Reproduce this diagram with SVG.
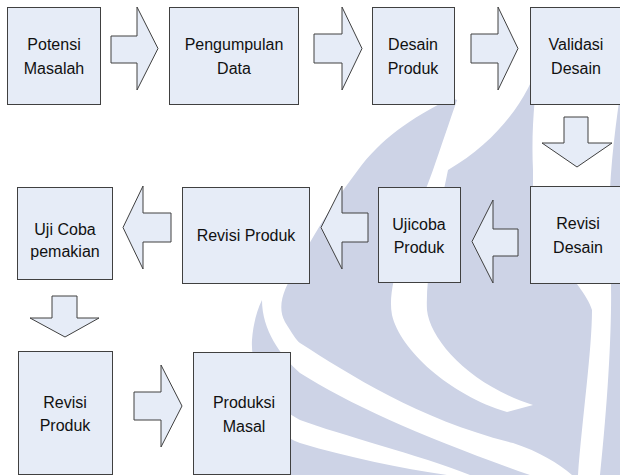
<svg xmlns="http://www.w3.org/2000/svg" width="620" height="475" viewBox="0 0 620 475">
<style>
.wm{fill:#CDD3E6;stroke:none}
.box{fill:#E6ECF7;stroke:#404040;stroke-width:1}
.arr{fill:#E6ECF7;stroke:#404040;stroke-width:1;stroke-linejoin:miter}
text{font-family:"Liberation Sans",Arial,sans-serif;font-size:16px;fill:#111;text-anchor:middle}
</style>
<rect x="0" y="0" width="620" height="475" fill="#fff"/>
<g id="watermark">
<path class="wm" d="M452,98 C410,118 380,140 358,170 C335,200 310,240 295,270 C285,288 276,305 285,322 C292,333 296,340 300,343 C350,375 420,420 513,443 C540,452 558,463 572,475 L578,475 C582,420 592,350 592,310 C585,285 540,250 533,200 L533,170 C531,130 535,90 540,58 C530,95 500,140 448,170 L433,170 C440,150 450,120 457,100 Z"/>
<path fill="#fff" d="M433,170 C415,220 385,280 392,315 C400,350 450,395 507,412 L533,405 C470,385 430,340 427,310 C425,270 440,210 448,170 Z"/>
<path class="wm" d="M262,300 C262,330 280,355 300,373 C350,405 430,440 530,475 L470,475 C420,455 340,435 300,420 C270,405 250,370 252,340 C253,325 257,310 262,300 Z"/>
<path class="wm" d="M256,410 C270,425 285,438 300,443 C350,458 400,468 447,475 L262,475 Z"/>
<path class="wm" d="M620,95 C612,150 607,200 610,260 C613,300 610,380 600,475 L620,475 Z"/>
</g>
<g id="connectors">
<path class="arr" d="M111,36 H137 V7 L158,48.5 L137,90 V63 H111 Z"/>
<path class="arr" d="M314,34 H342 V7 L362,48.5 L342,90 V63 H314 Z"/>
<path class="arr" d="M471,34 H498 V7 L518,48.5 L498,90 V63 H471 Z"/>
<path class="arr" d="M564,117 H588 V143 H612 L577,167 L542,143 H564 Z"/>
<path class="arr" d="M518,229 H493 V200 L472,241.5 L493,283 V256 H518 Z"/>
<path class="arr" d="M368,213 H342 V186 L321,227.5 L342,269 V242 H368 Z"/>
<path class="arr" d="M171,213 H143 V186 L123,227.5 L143,269 V242 H171 Z"/>
<path class="arr" d="M52,296 H77 V318 H99 L65,337 L30,318 H52 Z"/>
<path class="arr" d="M134,392 H161 V365 L182,406 L161,447 V420 H134 Z"/>
</g>
<g id="potensi-masalah"><rect class="box" x="7.5" y="7.5" width="93" height="97"/><text x="54" y="50">Potensi</text><text x="54" y="74">Masalah</text></g>
<g id="pengumpulan-data"><rect class="box" x="169.5" y="7.5" width="129" height="97"/><text x="234" y="50">Pengumpulan</text><text x="234" y="74">Data</text></g>
<g id="desain-produk"><rect class="box" x="372.5" y="7.5" width="82" height="97"/><text x="413" y="50">Desain</text><text x="413" y="74">Produk</text></g>
<g id="validasi-desain"><rect class="box" x="530.5" y="7.5" width="92" height="97"/><text x="576" y="50">Validasi</text><text x="576" y="74">Desain</text></g>
<g id="revisi-desain"><rect class="box" x="530.5" y="186.5" width="92" height="97"/><text x="578" y="229">Revisi</text><text x="578" y="253">Desain</text></g>
<g id="ujicoba-produk"><rect class="box" x="378.5" y="187.5" width="82" height="95"/><text x="419" y="230">Ujicoba</text><text x="419" y="253">Produk</text></g>
<g id="revisi-produk-1"><rect class="box" x="182.5" y="187.5" width="127" height="96"/><text x="246" y="241">Revisi Produk</text></g>
<g id="uji-coba-pemakian"><rect class="box" x="17.5" y="187.5" width="95" height="92"/><text x="65" y="235">Uji Coba</text><text x="65" y="257">pemakian</text></g>
<g id="revisi-produk-2"><rect class="box" x="18.5" y="351.5" width="94" height="123"/><text x="65" y="408">Revisi</text><text x="65" y="431">Produk</text></g>
<g id="produksi-masal"><rect class="box" x="193.5" y="352.5" width="97" height="122"/><text x="244" y="408">Produksi</text><text x="244" y="432">Masal</text></g>
</svg>
